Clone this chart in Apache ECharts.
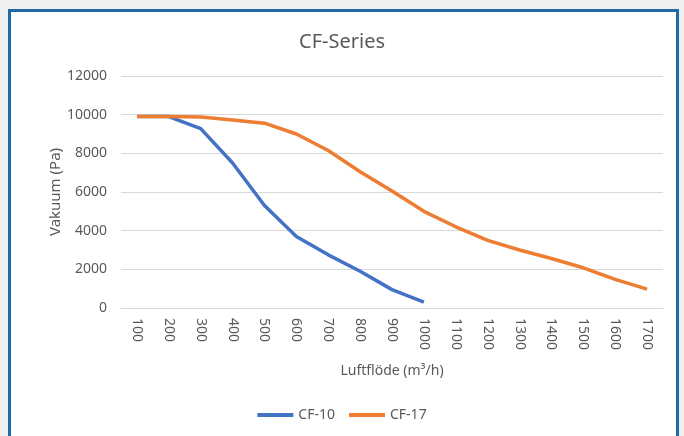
<!DOCTYPE html>
<html>
<head>
<meta charset="utf-8">
<script src="https://cdn.jsdelivr.net/npm/echarts@6/dist/echarts.min.js"></script>
<style>
html,body{margin:0;padding:0;background:#efefef;width:684px;height:436px;overflow:hidden;}
#frame{position:absolute;left:8px;top:9px;width:665px;height:440px;background:#fff;border:3px solid #1f69a6;}
#chart{position:absolute;left:0;top:0;width:684px;height:436px;}
</style>
</head>
<body>
<div id="frame"></div>
<div id="chart"></div>
<script>
const categories = ['100','200','300','400','500','600','700','800','900','1000','1100','1200','1300','1400','1500','1600','1700'];
const cf10 = [9900, 9900, 9280, 7500, 5300, 3700, 2750, 1900, 950, 300];
const cf17 = [9900, 9900, 9880, 9730, 9560, 9000, 8150, 7050, 6050, 5000, 4200, 3500, 3000, 2560, 2080, 1480, 980];

const chart = echarts.init(document.getElementById('chart'), null, {renderer:'canvas'});
const txt = '#595959';
const font = 'Noto Sans';
chart.setOption({
  backgroundColor: 'transparent',
  animation: false,
  title: {
    text: 'CF-Series', left: 'center', top: 27,
    textStyle: {color: txt, fontSize: 20, fontWeight: 'normal', fontFamily: font}
  },
  legend: {
    bottom: 9, left: 'center',
    itemWidth: 36, itemHeight: 4, itemGap: 14,
    icon: 'rect',
    textStyle: {color: txt, fontSize: 14, fontFamily: font},
    data: ['CF-10', 'CF-17']
  },
  grid: {left: 121, right: 21, top: 76, bottom: 128, containLabel: false},
  xAxis: {
    type: 'category', data: categories, boundaryGap: true,
    name: 'Luftflöde (m³/h)', nameLocation: 'middle', nameGap: 56,
    nameTextStyle: {color: txt, fontSize: 14, fontFamily: font},
    axisLine: {lineStyle: {color: '#d9d9d9'}},
    axisTick: {show: false},
    axisLabel: {color: txt, fontSize: 14, fontFamily: font, rotate: -90, margin: 10, interval: 0}
  },
  yAxis: {
    type: 'value', min: 0, max: 12000, interval: 2000,
    name: 'Vakuum (Pa)', nameLocation: 'middle', nameGap: 58, nameMoveOverlap: false,
    nameTextStyle: {color: txt, fontSize: 15, fontFamily: font},
    axisLine: {show: false}, axisTick: {show: false},
    axisLabel: {color: txt, fontSize: 14, fontFamily: font, margin: 14, formatter: v => String(v)},
    splitLine: {lineStyle: {color: '#d9d9d9', width: 1}}
  },
  series: [
    {name: 'CF-10', type: 'line', data: cf10, showSymbol: false, symbol: 'none',
     lineStyle: {color: '#4472c4', width: 3.5}, itemStyle: {color: '#4472c4'}},
    {name: 'CF-17', type: 'line', data: cf17, showSymbol: false, symbol: 'none',
     lineStyle: {color: '#ed7d31', width: 3.5}, itemStyle: {color: '#ed7d31'}}
  ]
});
</script>
</body>
</html>
